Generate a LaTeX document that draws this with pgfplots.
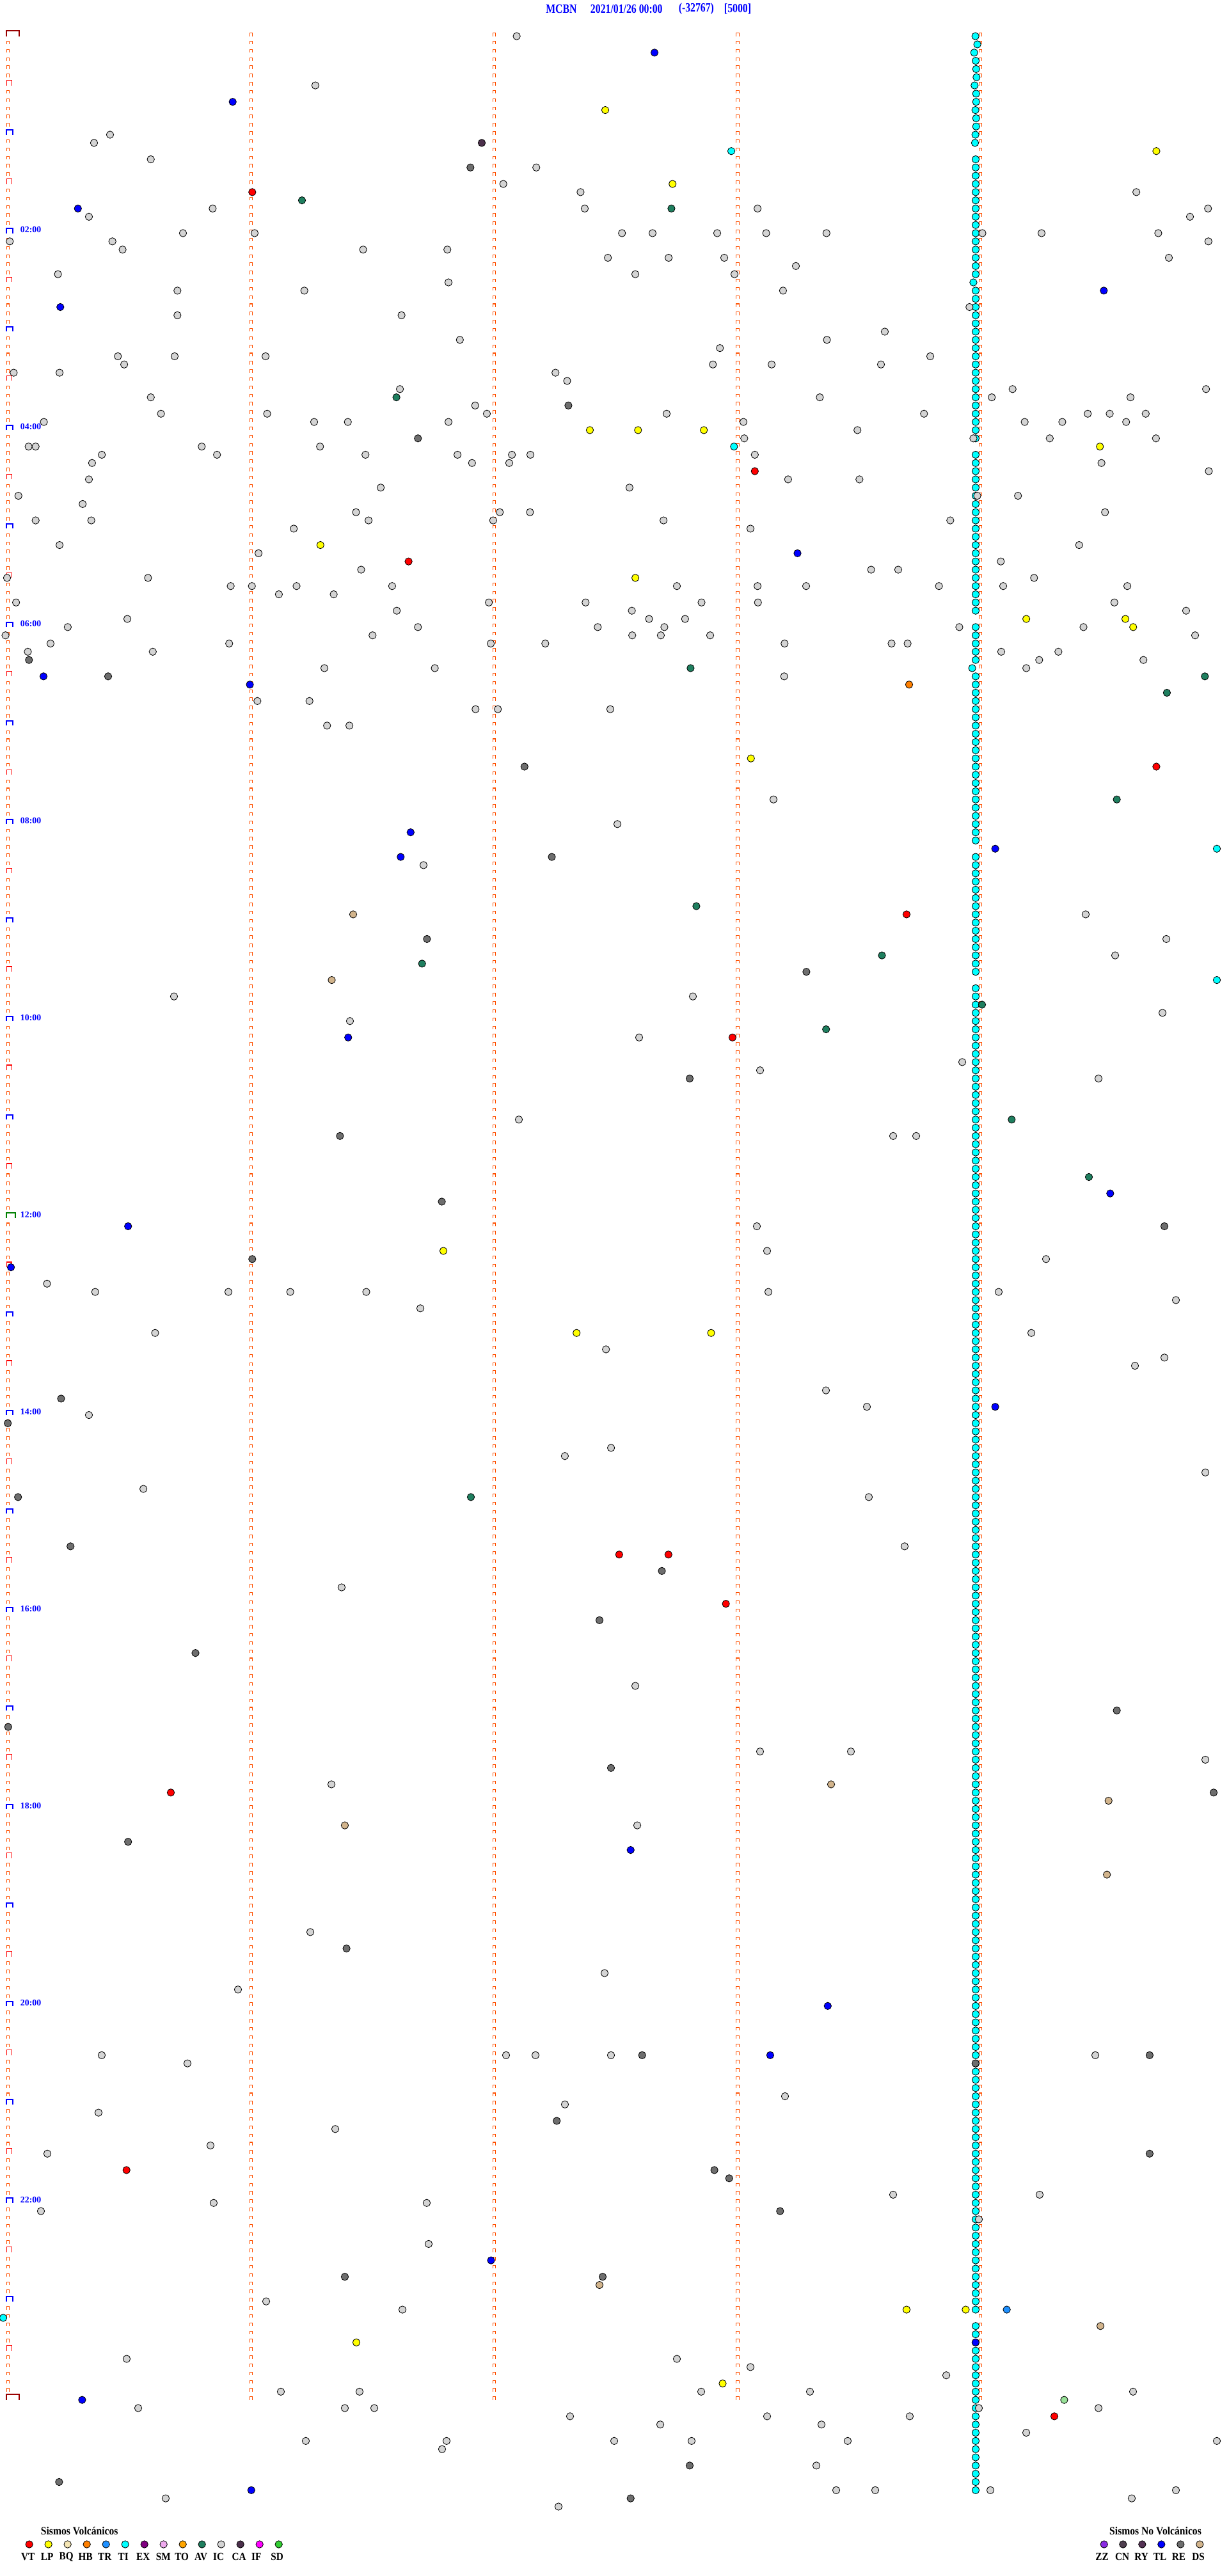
\documentclass[border=0pt]{standalone}
\usepackage{pgfplots}
\pgfplotsset{compat=1.18}
\usepackage{pgfplotstable}
\usepackage{graphicx}
\usepackage{fontspec}
\setmainfont{Liberation Serif}
\definecolor{ICc}{HTML}{D4D4D4}
\definecolor{REc}{HTML}{6E6E6E}
\definecolor{TLc}{HTML}{0000FF}
\definecolor{LPc}{HTML}{FFFF00}
\definecolor{VTc}{HTML}{FF0000}
\definecolor{AVc}{HTML}{1F7F5F}
\definecolor{TIc}{HTML}{00FFFF}
\definecolor{DSc}{HTML}{D2B48C}
\definecolor{CAc}{HTML}{4B2F4B}
\definecolor{HBc}{HTML}{FF8000}
\definecolor{TRc}{HTML}{1E90FF}
\definecolor{EXc}{HTML}{800080}
\definecolor{SMc}{HTML}{EEAAEE}
\definecolor{TOc}{HTML}{FFA500}
\definecolor{IFc}{HTML}{FF00FF}
\definecolor{SDc}{HTML}{32CD32}
\definecolor{BQc}{HTML}{F5E6B4}
\definecolor{ZZc}{HTML}{8A2BE2}
\definecolor{CNc}{HTML}{4F3F4F}
\definecolor{RYc}{HTML}{553355}
\definecolor{capor}{HTML}{FF5000}
\definecolor{capbr}{HTML}{990000}
\definecolor{capgr}{HTML}{008000}
\definecolor{lgreen}{HTML}{98E098}

\pgfdeclareplotmark{capS}{%
 \pgfpathmoveto{\pgfpoint{-1.55pt}{0pt}}\pgfpathlineto{\pgfpoint{-1.55pt}{3.6pt}}%
 \pgfpathlineto{\pgfpoint{1.55pt}{3.6pt}}\pgfpathlineto{\pgfpoint{1.55pt}{0pt}}\pgfusepathqstroke}
\pgfdeclareplotmark{capR}{%
 \pgfpathmoveto{\pgfpoint{-1.6pt}{0pt}}\pgfpathlineto{\pgfpoint{-1.6pt}{5.9pt}}%
 \pgfpathlineto{\pgfpoint{4.2pt}{5.9pt}}\pgfpathlineto{\pgfpoint{4.2pt}{0pt}}\pgfusepathqstroke}
\pgfdeclareplotmark{capB}{%
 \pgfpathmoveto{\pgfpoint{-1.95pt}{0pt}}\pgfpathlineto{\pgfpoint{-1.95pt}{5.3pt}}%
 \pgfpathlineto{\pgfpoint{5.27pt}{5.3pt}}\pgfpathlineto{\pgfpoint{5.27pt}{0pt}}\pgfusepathqstroke}
\pgfdeclareplotmark{capG}{%
 \pgfpathmoveto{\pgfpoint{-1.8pt}{0pt}}\pgfpathlineto{\pgfpoint{-1.8pt}{6.1pt}}%
 \pgfpathlineto{\pgfpoint{8.2pt}{6.1pt}}\pgfpathlineto{\pgfpoint{8.2pt}{0pt}}\pgfusepathqstroke}
\pgfdeclareplotmark{capK}{%
 \pgfpathmoveto{\pgfpoint{-1.73pt}{0pt}}\pgfpathlineto{\pgfpoint{-1.73pt}{6.5pt}}%
 \pgfpathlineto{\pgfpoint{12.3pt}{6.5pt}}\pgfpathlineto{\pgfpoint{12.3pt}{0pt}}\pgfusepathqstroke}

\pgfplotsset{ev/.style={only marks, mark=*, mark size=4.1pt,
  mark options={draw=black, line width=0.6pt, fill=#1}}}

% row index of every 5-minute line (0 = 00:00, 288 = 24:00)
\pgfplotstableread[row sep=\\]{r\\
0\\1\\2\\3\\4\\5\\6\\7\\8\\9\\10\\11\\12\\13\\14\\15\\16\\17\\18\\19\\
20\\21\\22\\23\\24\\25\\26\\27\\28\\29\\30\\31\\32\\33\\34\\35\\36\\37\\38\\39\\
40\\41\\42\\43\\44\\45\\46\\47\\48\\49\\50\\51\\52\\53\\54\\55\\56\\57\\58\\59\\
60\\61\\62\\63\\64\\65\\66\\67\\68\\69\\70\\71\\72\\73\\74\\75\\76\\77\\78\\79\\
80\\81\\82\\83\\84\\85\\86\\87\\88\\89\\90\\91\\92\\93\\94\\95\\96\\97\\98\\99\\
100\\101\\102\\103\\104\\105\\106\\107\\108\\109\\110\\111\\112\\113\\114\\115\\116\\117\\118\\119\\
120\\121\\122\\123\\124\\125\\126\\127\\128\\129\\130\\131\\132\\133\\134\\135\\136\\137\\138\\139\\
140\\141\\142\\143\\144\\145\\146\\147\\148\\149\\150\\151\\152\\153\\154\\155\\156\\157\\158\\159\\
160\\161\\162\\163\\164\\165\\166\\167\\168\\169\\170\\171\\172\\173\\174\\175\\176\\177\\178\\179\\
180\\181\\182\\183\\184\\185\\186\\187\\188\\189\\190\\191\\192\\193\\194\\195\\196\\197\\198\\199\\
200\\201\\202\\203\\204\\205\\206\\207\\208\\209\\210\\211\\212\\213\\214\\215\\216\\217\\218\\219\\
220\\221\\222\\223\\224\\225\\226\\227\\228\\229\\230\\231\\232\\233\\234\\235\\236\\237\\238\\239\\
240\\241\\242\\243\\244\\245\\246\\247\\248\\249\\250\\251\\252\\253\\254\\255\\256\\257\\258\\259\\
260\\261\\262\\263\\264\\265\\266\\267\\268\\269\\270\\271\\272\\273\\274\\275\\276\\277\\278\\279\\
280\\281\\282\\283\\284\\285\\286\\287\\288\\}\rowsall

% rows of the first column that carry the small mark
\pgfplotstableread[row sep=\\]{r\\
1\\2\\3\\4\\5\\7\\8\\9\\10\\11\\13\\14\\15\\16\\17\\19\\20\\21\\22\\23\\25\\26\\27\\28\\29\\
31\\32\\33\\34\\35\\37\\38\\39\\40\\41\\43\\44\\45\\46\\47\\49\\50\\51\\52\\53\\55\\56\\57\\58\\59\\
61\\62\\63\\64\\65\\67\\68\\69\\70\\71\\73\\74\\75\\76\\77\\79\\80\\81\\82\\83\\85\\86\\87\\88\\89\\
91\\92\\93\\94\\95\\97\\98\\99\\100\\101\\103\\104\\105\\106\\107\\109\\110\\111\\112\\113\\115\\116\\117\\118\\119\\
121\\122\\123\\124\\125\\127\\128\\129\\130\\131\\133\\134\\135\\136\\137\\139\\140\\141\\142\\143\\145\\146\\147\\148\\149\\
151\\152\\153\\154\\155\\157\\158\\159\\160\\161\\163\\164\\165\\166\\167\\169\\170\\171\\172\\173\\175\\176\\177\\178\\179\\
181\\182\\183\\184\\185\\187\\188\\189\\190\\191\\193\\194\\195\\196\\197\\199\\200\\201\\202\\203\\205\\206\\207\\208\\209\\
211\\212\\213\\214\\215\\217\\218\\219\\220\\221\\223\\224\\225\\226\\227\\229\\230\\231\\232\\233\\235\\236\\237\\238\\239\\
241\\242\\243\\244\\245\\247\\248\\249\\250\\251\\253\\254\\255\\256\\257\\259\\260\\261\\262\\263\\265\\266\\267\\268\\269\\
271\\272\\273\\274\\275\\277\\278\\279\\280\\281\\283\\284\\285\\286\\287\\}\rowsA

\begin{document}
\begin{tikzpicture}
\begin{axis}[
  width=19.2in, height=40.27in, scale only axis,
  xmin=0, xmax=1920, ymin=-4.41, ymax=309.46, y dir=reverse,
  hide axis, clip=false]

% ---------- 5-minute marks of the five columns
\addplot[only marks, mark=capS, color=capor, mark options={line width=0.75pt}] table[x expr=12.7, y=r] \rowsA;
\addplot[only marks, mark=capS, color=capor, mark options={line width=0.75pt}] table[x expr=392.8, y=r] \rowsall;
\addplot[only marks, mark=capS, color=capor, mark options={line width=0.75pt}] table[x expr=772.7, y=r] \rowsall;
\addplot[only marks, mark=capS, color=capor, mark options={line width=0.75pt}] table[x expr=1152.9, y=r] \rowsall;
\addplot[only marks, mark=capS, color=capor, mark options={line width=0.75pt}] table[x expr=1532.8, y=r] \rowsall;
% half hours
\addplot[only marks, mark=capR, color=VTc, mark options={line width=0.85pt}] coordinates {
(12.7,6)(12.7,18)(12.7,30)(12.7,42)(12.7,54)(12.7,66)(12.7,78)(12.7,90)(12.7,102)(12.7,114)(12.7,126)(12.7,138)
(12.7,150)(12.7,162)(12.7,174)(12.7,186)(12.7,198)(12.7,210)(12.7,222)(12.7,234)(12.7,246)(12.7,258)(12.7,270)(12.7,282)};
% hours
\addplot[only marks, mark=capB, color=TLc, mark options={line width=1.45pt}] coordinates {
(12.7,12)(12.7,24)(12.7,36)(12.7,48)(12.7,60)(12.7,72)(12.7,84)(12.7,96)(12.7,108)(12.7,120)(12.7,132)
(12.7,156)(12.7,168)(12.7,180)(12.7,192)(12.7,204)(12.7,216)(12.7,228)(12.7,240)(12.7,252)(12.7,264)(12.7,276)};
\addplot[only marks, mark=capG, color=capgr, mark options={line width=1.45pt}] coordinates {(12.7,144)};
\addplot[only marks, mark=capK, color=capbr, mark options={line width=1.45pt}] coordinates {(12.7,0)(12.7,288)};

% ---------- TI column
\addplot[ev=TIc] coordinates {
(1524.6,0)(1527.6,1)(1522.7,2)(1525.1,3)(1525.7,4)(1526.3,5)(1523.3,6)(1525.7,7)(1525.7,8)(1524.6,9)(1525.7,10)(1525.7,11)(1524.6,12)(1524,13)
(1525,15)(1525,16)(1525,17)(1525,18)(1525,19)(1525,20)(1525,21)(1525,22)(1525,23)(1525,24)(1525,25)(1525,26)(1525,27)(1525,28)(1525,29)
(1521.4,30)(1525,31)(1525,32)(1525,33)(1525,34)(1525,35)(1525,36)(1525,37)(1525,38)(1525,39)(1525,40)(1525,41)(1525,42)(1525,43)(1525,44)
(1525,45)(1525,46)(1525,47)(1525,48)(1525,49)(1525,51)(1525,52)(1525,53)(1525,54)(1525,55)(1525,56)(1525,57)(1525,58)(1525,59)
(1525,60)(1525,61)(1525,62)(1525,63)(1525,64)(1525,65)(1525,66)(1525,67)(1525,68)(1525,69)(1525,70)(1525,72)(1525,73)(1525,74)
(1525,75)(1525,76)(1519.6,77)(1525,78)(1525,79)(1525,80)(1525,81)(1525,82)(1525,83)(1525,84)(1525,85)(1525,86)(1525,87)(1525,88)(1525,89)
(1525,90)(1525,91)(1525,92)(1525,93)(1525,94)(1525,95)(1525,96)(1525,97)(1525,98)(1525,100)(1525,101)(1525,102)(1525,103)(1525,104)
(1525,105)(1525,106)(1525,107)(1525,108)(1525,109)(1525,110)(1525,111)(1525,112)(1525,113)(1525,114)(1525,116)(1525,117)(1525,118)(1525,119)
(1525,120)(1525,121)(1525,122)(1525,123)(1525,124)(1525,125)(1525,126)(1525,127)(1525,128)(1525,129)(1525,130)(1525,131)(1525,132)(1525,133)(1525,134)
(1525,135)(1525,136)(1525,137)(1525,138)(1525,139)(1525,140)(1525,141)(1525,142)(1525,143)(1525,144)(1525,145)(1525,146)(1525,147)(1525,148)(1525,149)
(1525,150)(1525,151)(1525,152)(1525,153)(1525,154)(1525,155)(1525,156)(1525,157)(1525,158)(1525,159)(1525,160)(1525,161)(1525,162)(1525,163)(1525,164)
(1525,165)(1525,166)(1525,167)(1525,168)(1525,169)(1525,170)(1525,171)(1525,172)(1525,173)(1525,174)(1525,175)(1525,176)(1525,177)(1525,178)(1525,179)
(1525,180)(1525,181)(1525,182)(1525,183)(1525,184)(1525,185)(1525,186)(1525,187)(1525,188)(1525,189)(1525,190)(1525,191)(1525,192)(1525,193)(1525,194)
(1525,195)(1525,196)(1525,197)(1525,198)(1525,199)(1525,200)(1525,201)(1525,202)(1525,203)(1525,204)(1525,205)(1525,206)(1525,207)(1525,208)(1525,209)
(1525,210)(1525,211)(1525,212)(1525,213)(1525,214)(1525,215)(1525,216)(1525,217)(1525,218)(1525,219)(1525,220)(1525,221)(1525,222)(1525,223)(1525,224)
(1525,225)(1525,226)(1525,227)(1525,228)(1525,229)(1525,230)(1525,231)(1525,232)(1525,233)(1525,234)(1525,235)(1525,236)(1525,237)(1525,238)(1525,239)
(1525,240)(1525,241)(1525,242)(1525,243)(1525,244)(1525,245)(1525,246)(1525,247)(1525,248)(1525,249)(1525,250)(1525,251)(1525,252)(1525,253)(1525,254)
(1525,255)(1525,256)(1525,257)(1525,258)(1525,259)(1525,260)(1525,261)(1525,262)(1525,263)(1525,264)(1525,265)(1525,266)(1525,267)(1525,268)(1525,269)
(1525,270)(1525,271)(1525,272)(1525,273)(1525,274)(1525,275)(1525,276)(1525,277)(1525,279)(1525,280)(1525,281)(1525,282)(1525,283)(1525,284)
(1525,285)(1525,286)(1525,287)(1525,288)(1525,289)(1525,290)(1525,291)(1525,292)(1525,293)(1525,294)(1525,295)(1525,296)(1525,297)(1525,298)(1525,299)};

% ---------- IC
\addplot[ev=ICc] coordinates {
(807.6,0)(492.9,6)(172,12)(147,13)(235.7,15)(838.2,16)(786.7,18)(907.4,19)(332.4,21)(914,21)(139,22)(286,24)(398,24)(15.3,25)(175.7,25)
(191.6,26)(567.6,26)(699.2,26)(950.2,27)(90.6,29)(701,30)(277.3,31)(475.7,31)(277.3,34)(627.6,34)(718.8,37)(184.3,39)(273,39)(415.1,39)
(194.1,40)(21.4,41)(93.1,41)(868.2,41)(886.5,42)
(1776.1,19)(1184.1,21)(1888.2,21)(1860,22)(972.2,24)(1020,24)(1121,24)(1197.6,24)(1291.8,24)(1535.5,24)(1628,24)(1810.4,24)(1888.8,25)
(1045.1,27)(1132,27)(1827,27)(1244,28)(993,29)(1148,29)(1223.9,31)(1515.3,33)(1383,36)(1292.5,37)(1125.3,38)(1454,39)(1114.3,40)(1206.1,40)(1377,40)
(625.1,43)(235.7,44)(742.7,45)(251.6,46)(417.6,46)(761,46)(68.6,47)(491,47)(543.7,47)(701,47)(44.7,50)(55.7,50)(315.3,50)(500.2,50)
(159.2,51)(339.2,51)(571.2,51)(715.1,51)(800.2,51)(829,51)(143.9,52)(737.8,52)(795.9,52)(139,54)(595.1,55)(28.8,56)(129.2,57)
(556.5,58)(781.2,58)(828.4,58)(55.7,59)(142.7,59)(576.1,59)(770.8,59)(459.2,60)(93.1,62)(404.1,63)(564.5,65)(11,66)(231.4,66)
(360.6,67)(393.7,67)(463.5,67)(612.9,67)(435.9,68)(521.6,68)(25.1,69)(764.1,69)(915.3,69)(620.2,70)(199,71)(105.9,72)(653.3,72)(934.3,72)
(8.6,73)(582.3,73)(79,74)(358.2,74)(767.1,74)(852.3,74)(43.5,75)(238.8,75)(507,77)(679.6,77)(402.3,81)(483.7,81)(743.3,82)(778.2,82)(953.9,82)
(511.2,84)(546.1,84)
(1582.7,43)(1885.1,43)(1281.4,44)(1550.2,44)(1767,44)(1042,46)(1444.3,46)(1700.2,46)(1734.5,46)(1790.8,46)(1162,47)(1601.6,47)(1660.4,47)(1760.2,47)
(1340.2,48)(1163.3,49)(1521.4,49)(1640.8,49)(1806.8,49)(1179.8,51)(1721.6,52)(1889.4,53)(1231.8,54)(1343.3,54)(983.9,55)(1527.5,56)(1591.2,56)
(1727.2,58)(1037.1,59)(1485.3,59)(1173,60)(1686.7,62)(1564.3,64)(1361.6,65)(1403.9,65)(1616.3,66)(1058,67)(1184.1,67)(1260,67)(1467.6,67)(1568,67)(1762,67)
(1096.5,69)(1184.7,69)(1741.8,69)(987.6,70)(1853.9,70)(1014.5,71)(1070.8,71)(1038.4,72)(1499.4,72)(1693.5,72)(988.2,73)(1032.9,73)(1110,73)(1868,73)
(1226.3,74)(1393.5,74)(1418.6,74)(1564.9,75)(1654.3,75)(1624.3,76)(1787.2,76)(1604.1,77)(1225.7,78)
(1209,93)(965,96)(662,101)(1697,107)(1823,110)(1743,112)(272,117)(1083,117)(1817,119)(547,120)(999,122)(1504,125)(1188,126)(1717,127)
(811,132)(1396,134)(1432,134)(1183,145)(1199,148)(1635,149)(73.5,152)(148.8,153)(357,153)(453.7,153)(572.5,153)(1201,153)(1561,153)(1838,154)
(657,155)(242.5,158)(1612,158)(947.2,160)(1820,161)(1774,162)(1291,165)(1355,167)(139,168)(955.1,172)(882.9,173)(1884,175)(224.1,177)(1358,178)
(1414,184)(534,189)(993,201)(1188,209)(1330,209)(1884,210)(518,213)(996,218)(485,231)(945,236)(372,238)(159,246)(791,246)(837,246)(955,246)(1712,246)
(293,247)(1227,251)(883,252)(154,253)(524,255)(329,257)(74,258)(1396,263)(1625,263)(334,264)(667,264)(64,265)(1530,266)(670,269)(416,276)(629,277)
(198,283)(1058,283)(1173,284)(1479,285)(439,287)(562,287)(1096,287)(1266,287)(1771,287)(216,289)(539,289)(585,289)(1530,289)(1717,289)
(891,290)(1199,290)(1422,290)(1032,291)(1284,291)(1604,292)(478,293)(698,293)(960,293)(1081,293)(1325,293)(1902,293)(691,294)(1276,296)
(1307,299)(1368,299)(1548,299)(1838,299)(259,300)(1769,300)(873,301)};

% ---------- RE
\addplot[ev=REc] coordinates {
(735.3,16)(888.4,45)(653.3,49)(45.3,76)(169,78)(819.8,89)(862.5,100)(667.4,110)(1260.4,114)(1078,127)(531.4,134)(690.6,142)(1820,145)
(394.3,149)(95.5,166)(12.2,169)(28.2,178)(110.2,184)(1034.5,187)(937,193)(305.5,197)(1745.6,204)(12.8,206)(955,211)(1897,214)(200.2,220)
(541.6,233)(1003.7,246)(1796.9,246)(1524.8,247)(870.2,254)(1796.9,258)(1116.6,260)(1139.7,261)(1219.3,265)(539,273)(942,273)(1078,296)
(92.4,298)(985.7,300)};
% ---------- TL
\addplot[ev=TLc] coordinates {
(1023,2)(363.7,8)(121.8,21)(1725.3,31)(94.3,33)(1246.5,63)(68,78)(390.6,79)(641.8,97)(1555.6,99)(626.3,100)(544.2,122)(1735.3,141)
(200.2,145)(17.1,150)(1555.6,167)(985.7,221)(1293.8,240)(1203.9,246)(767.5,271)(1524.8,281)(128.4,288)(392.8,299)};
% ---------- LP
\addplot[ev=LPc] coordinates {
(946,9)(1807.4,14)(1051.2,18)(922,48)(997.3,48)(1100.2,48)(1719.2,50)(500.8,62)(993.1,66)(1604.1,71)(1759,71)(1771.2,72)(1173.7,88)
(693,148)(901.2,158)(1111.5,158)(1417,277)(1509.4,277)(557,281)(1129.5,286)};
% ---------- VT
\addplot[ev=VTc] coordinates {
(394.3,19)(1179.8,53)(638.6,64)(1807.4,89)(1417,107)(1144.9,122)(967.8,185)(1044.8,185)(1134.6,191)(267,214)(197.7,260)(1648,290)};
% ---------- AV
\addplot[ev=AVc] coordinates {
(472,20)(1049.4,21)(619.6,44)(1079.4,77)(1883.3,78)(1823.9,80)(1745.6,93)(1088.4,106)(1378.5,112)(659.7,113)(1535,118)(1291.2,121)
(1581.3,132)(1702,139)(736,178)};
% ---------- other TI, CA, DS, HB, TR
\addplot[ev=TIc] coordinates {(1143,14)(1147.3,50)(1902,99)(1902,115)(5,278)};
\addplot[ev=CAc] coordinates {(753,13)};
\addplot[ev=DSc] coordinates {(552,107)(518.5,115)(1299,213)(1732.7,215)(539,218)(1730.2,224)(937,274)(1720,279)};
\addplot[ev=HBc] coordinates {(1421,79)};
\addplot[ev=TRc] coordinates {(1573.6,277)};
\addplot[ev=lgreen] coordinates {(1663.4,288)};

% ---------- legends (circles)
\addplot[ev=VTc] coordinates {(45.7,305.6)};
\addplot[ev=LPc] coordinates {(75.7,305.6)};
\addplot[ev=BQc] coordinates {(105.7,305.6)};
\addplot[ev=HBc] coordinates {(135.7,305.6)};
\addplot[ev=TRc] coordinates {(165.7,305.6)};
\addplot[ev=TIc] coordinates {(195.7,305.6)};
\addplot[ev=EXc] coordinates {(225.7,305.6)};
\addplot[ev=SMc] coordinates {(255.7,305.6)};
\addplot[ev=TOc] coordinates {(285.7,305.6)};
\addplot[ev=AVc] coordinates {(315.7,305.6)};
\addplot[ev=ICc] coordinates {(345.7,305.6)};
\addplot[ev=CAc] coordinates {(375.7,305.6)};
\addplot[ev=IFc] coordinates {(405.7,305.6)};
\addplot[ev=SDc] coordinates {(435.7,305.6)};
\addplot[ev=ZZc] coordinates {(1725.7,305.6)};
\addplot[ev=CNc] coordinates {(1755.3,305.6)};
\addplot[ev=RYc] coordinates {(1785.3,305.6)};
\addplot[ev=TLc] coordinates {(1815.3,305.6)};
\addplot[ev=REc] coordinates {(1845.3,305.6)};
\addplot[ev=DSc] coordinates {(1875.3,305.6)};

% ---------- texts
\begin{scope}[every node/.style={inner sep=0pt, text=TLc, font=\bfseries\fontsize{11.4}{13}\selectfont}]
\node[anchor=west] at (axis cs:853,-3.35) {\scalebox{1}[1.25]{MCBN}};
\node[anchor=west] at (axis cs:922.7,-3.35) {\scalebox{1}[1.25]{2021/01/26 00:00}};
\node[anchor=west] at (axis cs:1060.5,-3.35) {\scalebox{1}[1.25]{(-32767)}};
\node[anchor=west] at (axis cs:1131.7,-3.35) {\scalebox{1}[1.25]{[5000]}};
\end{scope}
\begin{scope}[every node/.style={inner sep=0pt, text=TLc, font=\bfseries\fontsize{10}{12}\selectfont}]
\node[anchor=west] at (axis cs:31.7,23.6) {02:00};
\node[anchor=west] at (axis cs:31.7,47.6) {04:00};
\node[anchor=west] at (axis cs:31.7,71.6) {06:00};
\node[anchor=west] at (axis cs:31.7,95.6) {08:00};
\node[anchor=west] at (axis cs:31.7,119.6) {10:00};
\node[anchor=west] at (axis cs:31.7,143.6) {12:00};
\node[anchor=west] at (axis cs:31.7,167.6) {14:00};
\node[anchor=west] at (axis cs:31.7,191.6) {16:00};
\node[anchor=west] at (axis cs:31.7,215.6) {18:00};
\node[anchor=west] at (axis cs:31.7,239.6) {20:00};
\node[anchor=west] at (axis cs:31.7,263.6) {22:00};
\end{scope}
\begin{scope}[every node/.style={inner sep=0pt, text=black, font=\bfseries\fontsize{11.3}{13}\selectfont}]
\node at (axis cs:124.2,304.0) {\scalebox{1}[1.12]{Sismos Volcánicos}};
\node at (axis cs:1806,304.0) {\scalebox{1}[1.12]{Sismos No Volcánicos}};
\end{scope}
\begin{scope}[every node/.style={inner sep=0pt, text=black, font=\bfseries\fontsize{11}{13}\selectfont}]
\node at (axis cs:43.7,307.1) {\scalebox{1}[1.12]{VT}};
\node at (axis cs:73.7,307.1) {\scalebox{1}[1.12]{LP}};
\node at (axis cs:103.7,307.1) {\scalebox{1}[1.12]{BQ}};
\node at (axis cs:133.7,307.1) {\scalebox{1}[1.12]{HB}};
\node at (axis cs:163.7,307.1) {\scalebox{1}[1.12]{TR}};
\node at (axis cs:192.7,307.1) {\scalebox{1}[1.12]{TI}};
\node at (axis cs:223.7,307.1) {\scalebox{1}[1.12]{EX}};
\node at (axis cs:255.2,307.1) {\scalebox{1}[1.12]{SM}};
\node at (axis cs:284.2,307.1) {\scalebox{1}[1.12]{TO}};
\node at (axis cs:314.2,307.1) {\scalebox{1}[1.12]{AV}};
\node at (axis cs:341.7,307.1) {\scalebox{1}[1.12]{IC}};
\node at (axis cs:373.7,307.1) {\scalebox{1}[1.12]{CA}};
\node at (axis cs:400.7,307.1) {\scalebox{1}[1.12]{IF}};
\node at (axis cs:433.2,307.1) {\scalebox{1}[1.12]{SD}};
\node at (axis cs:1722.5,307.1) {\scalebox{1}[1.12]{ZZ}};
\node at (axis cs:1754,307.1) {\scalebox{1}[1.12]{CN}};
\node at (axis cs:1784,307.1) {\scalebox{1}[1.12]{RY}};
\node at (axis cs:1813,307.1) {\scalebox{1}[1.12]{TL}};
\node at (axis cs:1842.5,307.1) {\scalebox{1}[1.12]{RE}};
\node at (axis cs:1873,307.1) {\scalebox{1}[1.12]{DS}};
\end{scope}
\end{axis}
\pgfresetboundingbox
\path (current axis.south west) rectangle (current axis.north east);
\end{tikzpicture}
\end{document}
